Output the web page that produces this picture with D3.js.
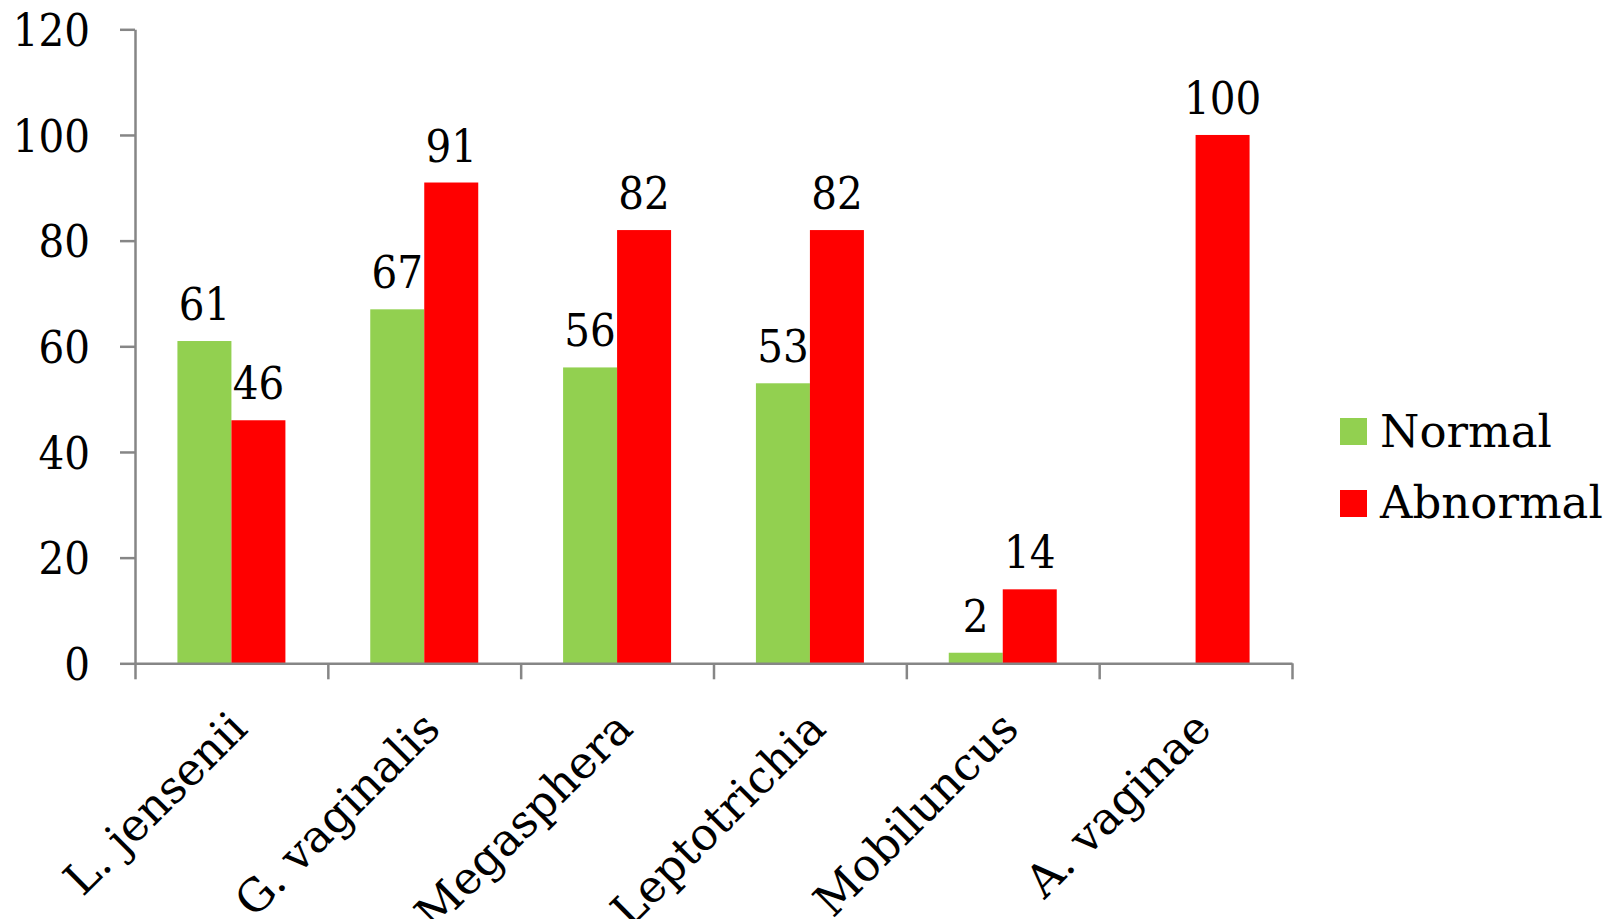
<!DOCTYPE html>
<html><head><meta charset="utf-8">
<script src="https://cdn.jsdelivr.net/npm/d3@7"></script>
<style>
html,body{margin:0;padding:0;background:#fff;}
svg text{fill:#000;}
.num{font-family:"DejaVu Serif Condensed","DejaVu Serif",serif;}
.word{font-family:"DejaVu Serif",serif;}
</style></head>
<body><svg id="c" width="1604" height="919"></svg>
<script>
const categories = ["L. jensenii","G. vaginalis","Megasphera","Leptotrichia","Mobiluncus","A. vaginae"];
const normalValues = [61,67,56,53,2,null];
const abnormalValues = [46,91,82,82,14,100];
const seriesNames = ["Normal","Abnormal"];
const seriesColors = ["#92D050","#FF0000"];
const yTicks = [0,20,40,60,80,100,120];

(function(){
const svg = d3.select("#c");
const mLeft = 135, mRight = 1292, mTop = 29.3, mBottom = 663.3;
const fsNum = 45, fsWord = 45;

const x = d3.scaleBand().domain(categories).range([mLeft,mRight]).paddingInner(0.44).paddingOuter(0.22);
const y = d3.scaleLinear().domain([0,120]).range([mBottom,mTop]);
const xs = d3.scaleBand().domain(seriesNames).range([0,x.bandwidth()]);

const series = [normalValues, abnormalValues];
const g = svg.append("g");
series.forEach((vals,si)=>{
  categories.forEach((c,i)=>{
    const v = vals[i];
    if(v==null) return;
    g.append("rect")
      .attr("x", x(c)+xs(seriesNames[si]))
      .attr("y", y(v))
      .attr("width", xs.bandwidth())
      .attr("height", y(0)-y(v))
      .attr("fill", seriesColors[si]);
    g.append("text").attr("class","num")
      .attr("x", x(c)+xs(seriesNames[si])+xs.bandwidth()/2)
      .attr("y", y(v)-21)
      .attr("text-anchor","middle")
      .attr("font-size", fsNum)
      .text(v);
  });
});

// Y axis
const yAxis = d3.axisLeft(y).tickValues(yTicks).tickSize(15).tickPadding(30).tickSizeOuter(0);
const ya = svg.append("g").attr("transform",`translate(${mLeft},0)`).call(yAxis);
ya.attr("font-family",null).attr("font-size",null);
ya.selectAll("text").attr("class","num").attr("font-size",fsNum).attr("dy","0.36em");
ya.selectAll("line,path").attr("stroke","#868686").attr("stroke-width",2.5);

// X axis
const xb = d3.scaleLinear().domain([0,categories.length]).range([mLeft,mRight]);
const xAxis = d3.axisBottom(xb).tickValues(d3.range(categories.length+1)).tickSize(16).tickFormat("").tickSizeOuter(0);
const xa = svg.append("g").attr("transform",`translate(0,${mBottom})`).call(xAxis);
xa.selectAll("line,path").attr("stroke","#868686").attr("stroke-width",2.5);

svg.append("g").selectAll("text").data(categories).enter().append("text")
  .attr("class","word")
  .attr("transform", d=>`translate(${x(d)+x.bandwidth()/2+18},731) rotate(-45)`)
  .attr("text-anchor","end")
  .attr("font-size",fsWord)
  .text(d=>d);

// Legend
const lg = svg.append("g");
seriesNames.forEach((s,i)=>{
  lg.append("rect").attr("x",1340).attr("y",418+i*72).attr("width",27).attr("height",27).attr("fill",seriesColors[i]);
  lg.append("text").attr("class","word").attr("x",1380).attr("y",447+i*71).attr("font-size",fsWord).text(s);
});
})();
</script></body></html>
